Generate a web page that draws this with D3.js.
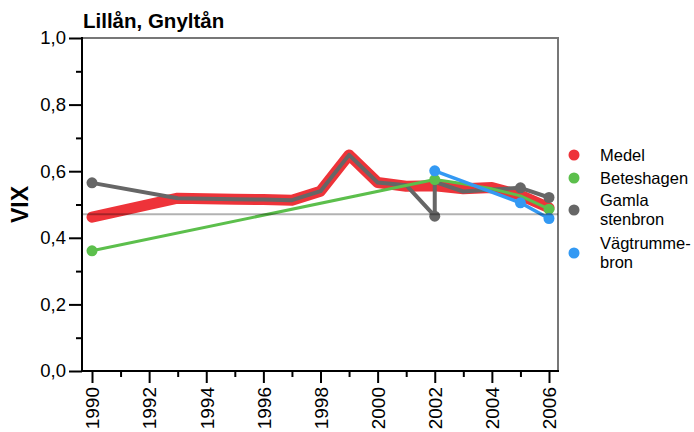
<!DOCTYPE html>
<html>
<head>
<meta charset="utf-8">
<script src="https://cdn.jsdelivr.net/npm/d3@7"></script>
<style>
  body { margin: 0; background: #fff; }
  svg { font-family: Arial, "Liberation Sans", Helvetica, sans-serif; }
</style>
</head>
<body>
<div id="chart"></div>
<script>
// chart data
const title = 'Lillån, Gnyltån'
const yLabel = 'VIX'
const yTicks = [0, 0.2, 0.4, 0.6, 0.8, 1.0]
const yMinor = [0.1, 0.3, 0.5, 0.7, 0.9]
const xTicks = [1990, 1992, 1994, 1996, 1998, 2000, 2002, 2004, 2006]
const xMinor = [1991, 1993, 1995, 1997, 1999, 2001, 2003, 2005]
const refValue = 0.471

const seriesNames = ['Medel', 'Beteshagen', 'Gamla stenbron', 'Vägtrumme-bron']
const legendLines = [['Medel'], ['Beteshagen'], ['Gamla', 'stenbron'], ['Vägtrumme-', 'bron']]

const medelYears = [1990, 1993, 1994, 1995, 1996, 1997, 1998, 1999, 2000, 2001, 2002, 2003, 2004, 2005, 2006]
const medelVals = [0.462, 0.519, 0.517, 0.516, 0.515, 0.513, 0.540, 0.649, 0.566, 0.555, 0.556, 0.547, 0.551, 0.528, 0.490]

const beteYears = [1990, 2002, 2003, 2004, 2005, 2006]
const beteVals = [0.361, 0.575, 0.562, 0.547, 0.526, 0.486]
const beteDots = [1990, 2002, 2006]

const gamlaYears = [1990, 1993, 1994, 1995, 1996, 1997, 1998, 1999, 2000, 2001, 2002, 2002, 2003, 2004, 2005, 2006]
const gamlaVals = [0.565, 0.519, 0.517, 0.516, 0.515, 0.513, 0.540, 0.649, 0.566, 0.558, 0.465, 0.568, 0.539, 0.545, 0.550, 0.521]
const gamlaDots = [1990, 2002, 2005, 2006]

const vagYears = [2002, 2005, 2006]
const vagVals = [0.601, 0.505, 0.458]
const vagDots = [2002, 2005, 2006]

const colors = ['#ee3339', '#5cbf4c', '#666666', '#3399f3']

//set size of chart
const w = 694
const h = 432
const plotLeft = 82
const plotRight = 558
const plotTop = 38
const plotBottom = 371

const svg = d3.select('#chart').append('svg')
  .attr('width', w)
  .attr('height', h)

const x = d3.scaleLinear().domain([1990, 2006]).range([plotLeft + 10, plotRight - 9])
const y = d3.scaleLinear().domain([0, 1]).range([plotBottom, plotTop])

// frame, top and right in gray
svg.append('path')
  .attr('d', `M${plotLeft},${plotTop}H${plotRight}V${plotBottom}`)
  .attr('fill', 'none')
  .attr('stroke', '#777')
  .attr('stroke-width', 2)

// lines
const line = d3.line().x(d => x(d[0])).y(d => y(d[1]))
const pairs = (yrs, vals) => yrs.map((yr, i) => [yr, vals[i]])

svg.append('path')
  .attr('d', line(pairs(medelYears, medelVals)))
  .attr('fill', 'none')
  .attr('stroke', colors[0])
  .attr('stroke-width', 11)
  .attr('stroke-linejoin', 'round')
  .attr('stroke-linecap', 'round')

const sites = [
  { data: pairs(gamlaYears, gamlaVals), dots: gamlaDots, color: colors[2], width: 4 },
  { data: pairs(beteYears, beteVals), dots: beteDots, color: colors[1], width: 3 },
  { data: pairs(vagYears, vagVals), dots: vagDots, color: colors[3], width: 3.5 }
]

sites.forEach(s => {
  svg.append('path')
    .attr('d', line(s.data))
    .attr('fill', 'none')
    .attr('stroke', s.color)
    .attr('stroke-width', s.width)
    .attr('stroke-linejoin', 'round')

  svg.selectAll(null)
    .data(s.data.filter((d, i) => s.dots.includes(d[0]) && s.data.findIndex(e => e[0] === d[0]) === i))
    .enter()
    .append('circle')
    .attr('cx', d => x(d[0]))
    .attr('cy', d => y(d[1]))
    .attr('r', 5.5)
    .attr('fill', s.color)
})

// reference line on top
svg.append('line')
  .attr('x1', plotLeft).attr('x2', plotRight)
  .attr('y1', y(refValue)).attr('y2', y(refValue))
  .attr('stroke', 'rgba(0,0,0,0.3)')
  .attr('stroke-width', 2)

// y axis
const fmt = d => d.toFixed(1).replace('.', ',')
const yAxis = svg.append('g')
  .attr('transform', `translate(${plotLeft},0)`)
  .call(d3.axisLeft(y).tickValues(yTicks).tickSize(13).tickFormat(fmt))
yAxis.append('g')
  .call(d3.axisLeft(y).tickValues(yMinor).tickSize(6).tickFormat(''))
yAxis.selectAll('.domain').remove()
yAxis.selectAll('line').attr('stroke', '#000').attr('stroke-width', 2)
yAxis.selectAll('text')
  .attr('font-size', 18.5)
  .attr('fill', '#000')
  .attr('x', -16)

// x axis
const xAxis = svg.append('g')
  .attr('transform', `translate(0,${plotBottom})`)
  .call(d3.axisBottom(x).tickValues(xTicks).tickSize(12).tickFormat(d3.format('d')))
xAxis.append('g')
  .call(d3.axisBottom(x).tickValues(xMinor).tickSize(6).tickFormat(''))
xAxis.selectAll('.domain').remove()
xAxis.selectAll('line').attr('stroke', '#000').attr('stroke-width', 2)
xAxis.selectAll('text')
  .attr('font-size', 19)
  .attr('fill', '#000')
  .attr('transform', 'rotate(-90)')
  .attr('text-anchor', 'end')
  .attr('x', -16)
  .attr('y', 0)
  .attr('dy', '0.36em')

// axis lines
svg.append('path')
  .attr('d', `M${plotLeft},${plotTop - 1}V${plotBottom}H${plotRight + 1}`)
  .attr('fill', 'none')
  .attr('stroke', '#000')
  .attr('stroke-width', 2)

// title and axis label
svg.append('text')
  .attr('x', 83)
  .attr('y', 28)
  .attr('font-size', 20.5)
  .attr('font-weight', 'bold')
  .text(title)

svg.append('text')
  .attr('transform', `translate(28,${(plotTop + plotBottom) / 2}) rotate(-90)`)
  .attr('text-anchor', 'middle')
  .attr('font-size', 23)
  .attr('font-weight', 'bold')
  .text(yLabel)

// legend
const legend = svg.append('g').attr('transform', 'translate(574,0)')
const legendY = [155, 178, 210, 253]
seriesNames.forEach((name, i) => {
  const g = legend.append('g').attr('transform', `translate(0,${legendY[i]})`)
  g.append('circle').attr('r', 5.5).attr('fill', colors[i])
  const n = legendLines[i].length
  legendLines[i].forEach((txt, j) => {
    g.append('text')
      .attr('x', 26)
      .attr('y', (j - (n - 1) / 2) * 19)
      .attr('dy', '0.36em')
      .attr('font-size', 16.5)
      .text(txt)
  })
})
</script>
</body>
</html>
